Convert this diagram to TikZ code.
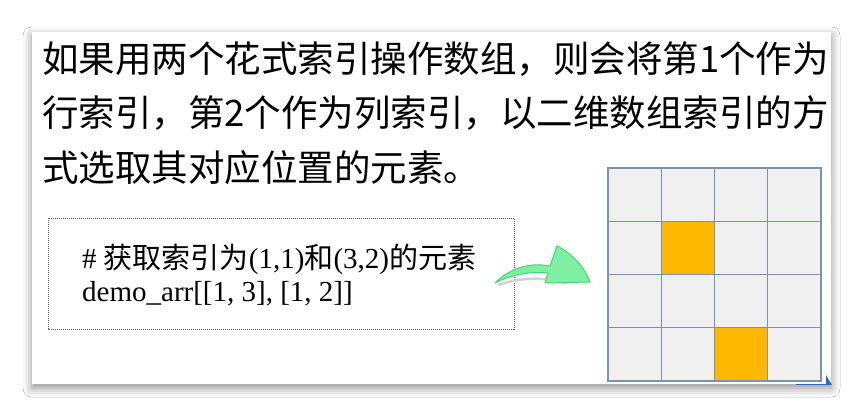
\documentclass[tikz,border=0pt]{standalone}
\usepackage{fontspec}
\setmainfont{Liberation Serif}
\newfontfamily\cjk{Noto Sans CJK SC}
\usetikzlibrary{shadows.blur}
\definecolor{gridline}{HTML}{7B93B3}
\definecolor{cellfill}{HTML}{F0F0F0}
\definecolor{hilite}{HTML}{FFB800}
\definecolor{arrowfill}{HTML}{80EFA2}
\definecolor{arrowline}{HTML}{3DDC72}
\definecolor{cornerblue}{HTML}{2E6BBF}
\tikzset{
  titleline/.style={anchor=base west, inner sep=0pt, font=\cjk\fontsize{36.5}{40}\selectfont},
  codeline/.style={anchor=base west, inner sep=0pt, font=\fontsize{29}{32}\selectfont},
  cell/.style={fill=cellfill, draw=gridline, line width=1.2pt},
  hot/.style={fill=hilite, draw=gridline, line width=1.2pt},
}
\begin{document}
\begin{tikzpicture}[x=1pt,y=-1pt]
\useasboundingbox (0,0) rectangle (864,417);
\fill[white] (0,0) rectangle (864,417);
% slide panel
\path[fill=white, blur shadow={shadow xshift=0pt, shadow yshift=-4pt, shadow blur radius=9pt, shadow opacity=45}] (32,32) rectangle (831,384);
% title
\node[titleline] (t1) at (42,73) {如果用两个花式索引操作数组，则会将第1个作为};
\node[titleline] (t2) at (42,127) {行索引，第2个作为列索引，以二维数组索引的方};
\node[titleline] (t3) at (42,181) {式选取其对应位置的元素。};
% code box
\draw[draw=black!65, line width=0.8pt, dash pattern=on 1pt off 1pt] (48,218) rectangle (514,329);
\node[codeline] (c1) at (82,268) {\#\ {\cjk 获取索引为}(1,1){\cjk 和}(3,2){\cjk 的元素}};
\node[codeline] (c2) at (82,301) {demo\_arr[[1, 3], [1, 2]]};
% arrow shadow
\draw[black!18, line width=2.5pt, line cap=round] (499,285) .. controls (520,277) and (545,277) .. (566,283);
% arrow
\draw[fill=arrowfill, draw=arrowline, line width=1pt, line join=round]
  (495,283) .. controls (510,268) and (530,262) .. (550,266)
  -- (557,246)
  .. controls (573,254) and (585,268) .. (590,282)
  -- (545,283)
  -- (548,273)
  .. controls (530,271) and (510,275) .. (495,283) -- cycle;
% grid
\foreach \i in {0,...,3}{
  \foreach \j in {0,...,3}{
    \draw[cell] ({608+53.25*\i},{168+53.25*\j}) rectangle ++(53.25,53.25);
  }
}
\draw[hot] ({608+53.25},{168+53.25}) rectangle ++(53.25,53.25);
\draw[hot] ({608+2*53.25},{168+3*53.25}) rectangle ++(53.25,53.25);
% corner mark
\draw[cornerblue, line width=1pt] (796,384.5) -- (831,384.5);
\fill[cornerblue] (826,375) -- (832,385) -- (826,385) -- cycle;
\end{tikzpicture}
\end{document}
